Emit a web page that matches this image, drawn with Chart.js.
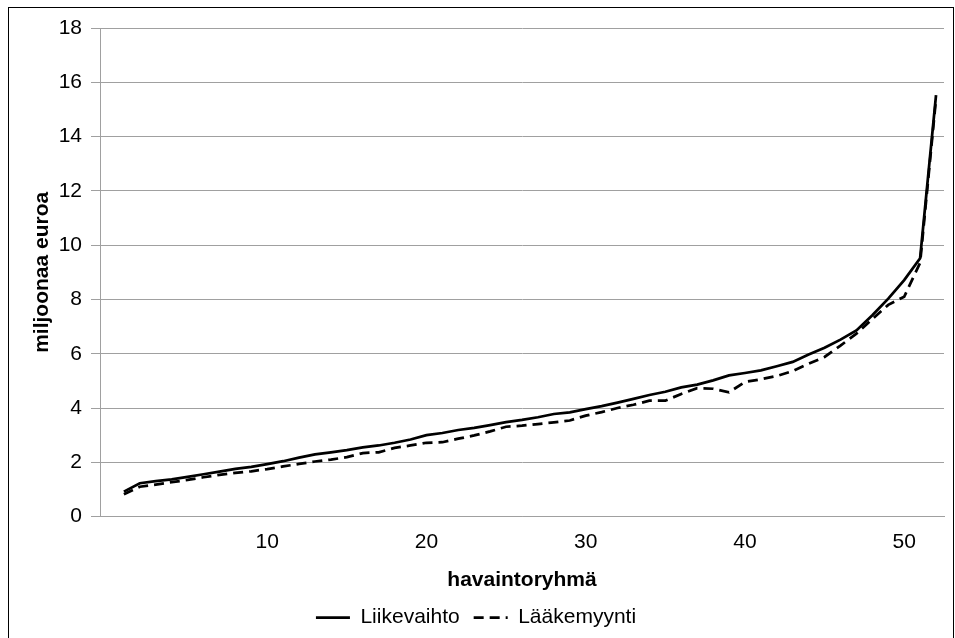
<!DOCTYPE html>
<html>
<head>
<meta charset="utf-8">
<script src="https://cdn.jsdelivr.net/npm/chart.js@4"></script>
<style>
  html, body { margin: 0; padding: 0; background: #fff; }
  #wrap { width: 955px; height: 638px; }
</style>
</head>
<body>
<div id="wrap"><canvas id="grafiikka"></canvas></div>
<script>
// havaintoryhmät 1..52
const categories = [1, 2, 3, 4, 5, 6, 7, 8, 9, 10, 11, 12, 13, 14, 15, 16, 17, 18, 19, 20,
  21, 22, 23, 24, 25, 26, 27, 28, 29, 30, 31, 32, 33, 34, 35, 36, 37, 38, 39, 40,
  41, 42, 43, 44, 45, 46, 47, 48, 49, 50, 51, 52];

// miljoonaa euroa
const liikevaihto = [0.92, 1.23, 1.31, 1.37, 1.46, 1.56, 1.66, 1.76, 1.83, 1.93,
  2.04, 2.17, 2.29, 2.37, 2.45, 2.55, 2.62, 2.72, 2.84, 3.0,
  3.08, 3.19, 3.27, 3.37, 3.48, 3.56, 3.66, 3.78, 3.84, 3.96,
  4.07, 4.2, 4.34, 4.48, 4.6, 4.76, 4.86, 5.02, 5.2, 5.29,
  5.39, 5.54, 5.7, 5.97, 6.22, 6.52, 6.86, 7.42, 8.03, 8.71,
  9.52, 15.53];

const laakemyynti = [0.82, 1.1, 1.18, 1.27, 1.35, 1.45, 1.54, 1.61, 1.67, 1.75,
  1.85, 1.94, 2.03, 2.1, 2.19, 2.34, 2.37, 2.53, 2.62, 2.72,
  2.74, 2.87, 2.99, 3.14, 3.31, 3.35, 3.41, 3.47, 3.54, 3.72,
  3.85, 4.0, 4.12, 4.27, 4.27, 4.52, 4.73, 4.71, 4.58, 4.96,
  5.06, 5.18, 5.36, 5.63, 5.88, 6.3, 6.74, 7.28, 7.8, 8.1,
  9.35, 15.4];

const xTicks = [10, 20, 30, 40, 50];
const yMin = 0;
const yMax = 18;
const yStep = 2;

const FONT = "'Liberation Sans', Arial, sans-serif";
const GRID = '#a0a0a0';

function points(values) {
  return categories.map((c, i) => ({ x: c, y: values[i] }));
}

//kehys koko kuvan ympärille
const kehys = {
  id: 'kehys',
  afterDraw(chart) {
    const ctx = chart.ctx;
    ctx.save();
    ctx.strokeStyle = '#000';
    ctx.lineWidth = 1;
    ctx.strokeRect(8.5, 7.5, 945, 640);
    ctx.restore();
  }
};

const chart = new Chart(document.getElementById('grafiikka'), {
  type: 'line',
  data: {
    datasets: [{
      label: 'Liikevaihto',
      data: points(liikevaihto),
      borderColor: '#000',
      backgroundColor: '#000',
      borderWidth: 2.75,
      pointRadius: 0,
      tension: 0,
      fill: false
    }, {
      label: 'Lääkemyynti',
      data: points(laakemyynti),
      borderColor: '#000',
      backgroundColor: '#000',
      borderWidth: 2.75,
      borderDash: [10, 6],
      pointRadius: 0,
      tension: 0,
      fill: false
    }]
  },
  options: {
    responsive: true,
    maintainAspectRatio: false,
    animation: false,
    layout: { padding: { top: 28, right: 11, bottom: 0, left: 8 } },
    plugins: {
      tooltip: { enabled: false },
      legend: {
        position: 'bottom',
        labels: {
          color: '#000',
          font: { family: FONT, size: 21 },
          usePointStyle: true,
          pointStyle: 'line',
          pointStyleWidth: 34,
          boxHeight: 3,
          padding: 14,
          //katkoviiva myös selitteeseen
          generateLabels: (chart) => {
            const items = Chart.defaults.plugins.legend.labels.generateLabels(chart);
            items.forEach(item => {
              const ds = chart.data.datasets[item.datasetIndex];
              item.lineDash = ds.borderDash || [];
              item.lineWidth = 2.75;
            });
            return items;
          }
        }
      }
    },
    scales: {
      x: {
        type: 'linear',
        min: -0.5,
        max: 52.5,
        afterBuildTicks: (scale) => { scale.ticks = xTicks.map(v => ({ value: v })); },
        grid: { display: false, drawTicks: false },
        border: { display: true, color: GRID, width: 1 },
        ticks: {
          color: '#000',
          font: { family: FONT, size: 21 },
          padding: 13,
          maxRotation: 0
        },
        title: {
          display: true,
          text: 'havaintoryhmä',
          color: '#000',
          font: { family: FONT, size: 21, weight: 'bold' },
          padding: { top: 0, bottom: 0 }
        }
      },
      y: {
        min: yMin,
        max: yMax,
        afterFit: (scale) => { scale.width = 92; },
        grid: { color: GRID, lineWidth: 1, tickLength: 9, tickColor: GRID },
        border: { display: true, color: GRID, width: 1 },
        ticks: {
          stepSize: yStep,
          color: '#000',
          font: { family: FONT, size: 21 },
          padding: 9
        },
        title: {
          display: true,
          text: 'miljoonaa euroa',
          color: '#000',
          font: { family: FONT, size: 21, weight: 'bold' },
          padding: { top: 22, bottom: 0 }
        }
      }
    }
  },
  plugins: [kehys]
});
</script>
</body>
</html>
